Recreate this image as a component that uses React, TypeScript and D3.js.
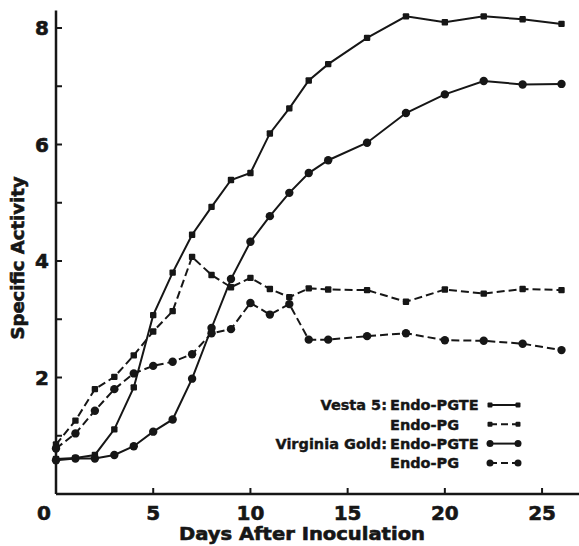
import React, { useRef, useEffect } from "react";
import * as d3 from "d3";

// days sampled
const days = [0, 1, 2, 3, 4, 5, 6, 7, 8, 9, 10, 11, 12, 13, 14, 16, 18, 20, 22, 24, 26];

// Vesta 5
const vestaPGTE = [0.6, 0.62, 0.67, 1.11, 1.83, 3.07, 3.8, 4.45, 4.93, 5.39, 5.51, 6.19, 6.62, 7.1, 7.38, 7.83, 8.2, 8.1, 8.2, 8.15, 8.07];
const vestaPG = [0.85, 1.26, 1.8, 2.01, 2.38, 2.79, 3.14, 4.07, 3.76, 3.55, 3.71, 3.52, 3.38, 3.53, 3.51, 3.5, 3.3, 3.51, 3.44, 3.52, 3.5];

// Virginia Gold
const virginiaPGTE = [0.58, 0.61, 0.61, 0.67, 0.82, 1.07, 1.28, 1.98, 2.85, 3.69, 4.33, 4.77, 5.17, 5.51, 5.73, 6.03, 6.54, 6.86, 7.09, 7.03, 7.04];
const virginiaPG = [0.78, 1.04, 1.43, 1.8, 2.07, 2.2, 2.27, 2.4, 2.76, 2.83, 3.28, 3.08, 3.26, 2.65, 2.65, 2.71, 2.76, 2.64, 2.63, 2.58, 2.47];

const xTicks = [0, 5, 10, 15, 20, 25];
const yTicks = [1, 2, 3, 4, 5, 6, 7, 8];
const yLabels = [2, 4, 6, 8];

const series = [
  { cultivar: "Vesta 5:", enzyme: "Endo-PGTE", values: vestaPGTE, dashed: false, marker: "square" },
  { cultivar: "", enzyme: "Endo-PG", values: vestaPG, dashed: true, marker: "square" },
  { cultivar: "Virginia Gold:", enzyme: "Endo-PGTE", values: virginiaPGTE, dashed: false, marker: "circle" },
  { cultivar: "", enzyme: "Endo-PG", values: virginiaPG, dashed: true, marker: "circle" },
];

const App = () => {
  const ref = useRef<SVGSVGElement>(null);

  useEffect(() => {
    const width = 579;
    const height = 546;
    const ink = "#161616";
    const font = "'DejaVu Sans', Verdana, sans-serif";

    const x = d3.scaleLinear().domain([0, 26.9]).range([56, 579]);
    const y = d3.scaleLinear().domain([0, 8]).range([494, 28]);

    const svg = d3.select(ref.current);
    svg.selectAll("*").remove();
    svg.attr("viewBox", [0, 0, width, height]).attr("width", width).attr("height", height);

    svg.append("rect").attr("width", width).attr("height", height).attr("fill", "white");

    // axes
    const axes = svg.append("g").attr("stroke", ink).attr("stroke-width", 2.5);
    axes.append("line").attr("x1", x(0)).attr("x2", width).attr("y1", y(0)).attr("y2", y(0));
    axes.append("line").attr("x1", x(0)).attr("x2", x(0)).attr("y1", y(0)).attr("y2", y(8.3));

    axes.selectAll(".xt")
      .data(xTicks.filter((d) => d > 0))
      .join("line")
      .attr("x1", (d) => x(d))
      .attr("x2", (d) => x(d))
      .attr("y1", y(0))
      .attr("y2", y(0) - 6)
      .attr("stroke-width", 2);

    axes.selectAll(".yt")
      .data(yTicks)
      .join("line")
      .attr("x1", x(0))
      .attr("x2", x(0) + 6)
      .attr("y1", (d) => y(d))
      .attr("y2", (d) => y(d))
      .attr("stroke-width", 2);

    // text is thickened with a thin stroke to get closer to the heavy print face
    const labels = svg.append("g")
      .attr("fill", ink)
      .attr("stroke", ink)
      .attr("stroke-width", 0.6)
      .style("font-family", font)
      .style("font-weight", "bold");

    labels.selectAll(".xl")
      .data(xTicks)
      .join("text")
      .attr("x", (d) => (d === 0 ? 44 : x(d)))
      .attr("y", 520)
      .attr("text-anchor", "middle")
      .style("font-size", "20px")
      .text((d) => d);

    labels.selectAll(".yl")
      .data(yLabels)
      .join("text")
      .attr("x", 42)
      .attr("y", (d) => y(d))
      .attr("dy", "0.36em")
      .attr("text-anchor", "middle")
      .style("font-size", "20px")
      .text((d) => d);

    labels.append("text")
      .attr("x", 302)
      .attr("y", 540)
      .attr("text-anchor", "middle")
      .attr("textLength", 246)
      .attr("lengthAdjust", "spacingAndGlyphs")
      .style("font-size", "18px")
      .text("Days After Inoculation");

    labels.append("text")
      .attr("transform", "translate(24,258) rotate(-90)")
      .attr("text-anchor", "middle")
      .attr("textLength", 163)
      .attr("lengthAdjust", "spacingAndGlyphs")
      .style("font-size", "17px")
      .text("Specific Activity");

    // lines
    const line = d3.line<number>()
      .x((d, i) => x(days[i]))
      .y((d) => y(d));

    const drawMarker = (g, marker, cx, cy, s) => {
      if (marker === "square") {
        g.append("rect")
          .attr("x", cx - s)
          .attr("y", cy - s)
          .attr("width", s * 2)
          .attr("height", s * 2)
          .attr("rx", 1)
          .attr("fill", ink)
          .attr("stroke", "none");
      } else {
        g.append("circle").attr("cx", cx).attr("cy", cy).attr("r", s + 1).attr("fill", ink).attr("stroke", "none");
      }
    };

    series.forEach((s) => {
      svg.append("path")
        .datum(s.values)
        .attr("fill", "none")
        .attr("stroke", ink)
        .attr("stroke-width", 2)
        .attr("stroke-dasharray", s.dashed ? "8,4" : null)
        .attr("d", line);
      const g = svg.append("g");
      s.values.forEach((v, i) => drawMarker(g, s.marker, x(days[i]), y(v), 3.2));
    });

    // legend
    const legend = svg.append("g")
      .style("font-family", font)
      .style("font-weight", "bold")
      .style("font-size", "14.5px")
      .attr("fill", ink);

    series.forEach((s, i) => {
      const ly = 405 + i * 19.3;
      legend.append("text")
        .attr("x", 387)
        .attr("y", ly)
        .attr("dy", "0.36em")
        .attr("text-anchor", "end")
        .attr("stroke", ink)
        .attr("stroke-width", 0.4)
        .text(s.cultivar);
      legend.append("text")
        .attr("x", 390)
        .attr("y", ly)
        .attr("dy", "0.36em")
        .attr("stroke", ink)
        .attr("stroke-width", 0.4)
        .text(s.enzyme);
      legend.append("line")
        .attr("x1", 490)
        .attr("x2", 518)
        .attr("y1", ly)
        .attr("y2", ly)
        .attr("stroke", ink)
        .attr("stroke-width", 2)
        .attr("stroke-dasharray", s.dashed ? "7,4" : null);
      drawMarker(legend, s.marker, 490, ly, 2.5);
      drawMarker(legend, s.marker, 518, ly, 2.5);
    });
  }, []);

  return (
    <div style={{ position: "absolute", left: 0, top: 0 }}>
      <svg ref={ref} style={{ display: "block" }} />
    </div>
  );
};

export default App;
